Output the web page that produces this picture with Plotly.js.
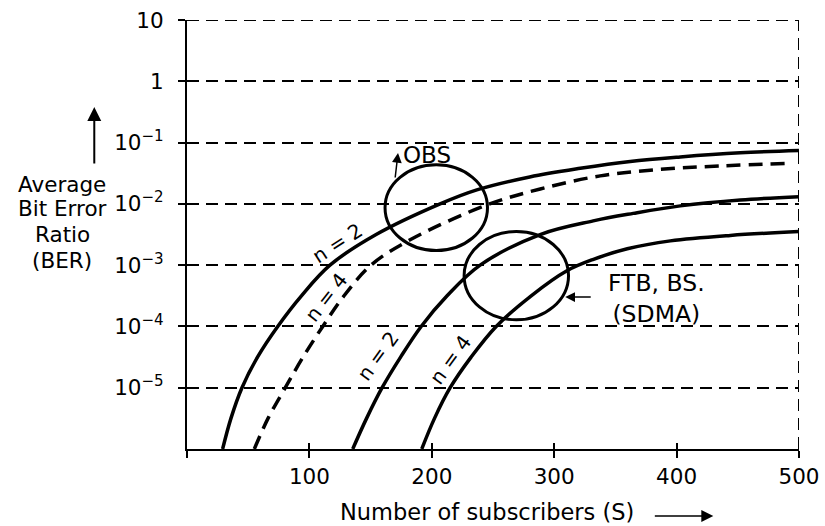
<!DOCTYPE html>
<html><head><meta charset="utf-8">
<script src="https://cdn.plot.ly/plotly-3.0.1.min.js"></script>
<style>html,body{margin:0;padding:0;background:#fff;}#chart{width:825px;height:526px;}</style>
</head><body><div id="chart"></div>
<script>
// OBS, n = 2 (solid)
const subscribersObsN2 = [29.1, 35.9, 44.9, 57.6, 74.1, 93.5, 116.8, 154.5, 206.8, 236.8, 280, 321.3, 362.1, 403, 452.1, 500];
const berObsN2 = [1e-6, 3.16e-6, 1e-5, 3.16e-5, 1e-4, 3.16e-4, 1e-3, 3.16e-3, 1.0e-2, 1.69e-2, 2.75e-2, 3.8e-2, 4.93e-2, 5.83e-2, 6.8e-2, 7.45e-2];
// OBS, n = 4 (dashed)
const subscribersObsN4 = [55, 66.2, 80.3, 94.8, 110.9, 128.3, 150.3, 182.3, 245, 288.6, 337.6, 386.7, 435.7, 490.1];
const berObsN4 = [1e-6, 3.16e-6, 1e-5, 3.16e-5, 1e-4, 3.16e-4, 1e-3, 2.59e-3, 9.6e-3, 1.75e-2, 2.86e-2, 3.65e-2, 4.16e-2, 4.57e-2];
// FTB, BS (SDMA), n = 2
const subscribersFtbN2 = [135.4, 146.7, 159.4, 174.5, 191.3, 212.5, 239.5, 288.5, 331.9, 364.6, 403, 452.1, 500];
const berFtbN2 = [1e-6, 3.16e-6, 1e-5, 3.16e-5, 1e-4, 3.16e-4, 1e-3, 3.16e-3, 5.28e-3, 7.0e-3, 9.27e-3, 1.16e-2, 1.31e-2];
// FTB, BS (SDMA), n = 4
const subscribersFtbN4 = [191.8, 202.2, 215, 232.1, 252.6, 281.2, 310.4, 332.1, 359.7, 394.9, 443.9, 500];
const berFtbN4 = [1e-6, 3.16e-6, 1e-5, 3.16e-5, 1e-4, 3.16e-4, 8.1e-4, 1.245e-3, 1.85e-3, 2.49e-3, 3.06e-3, 3.53e-3];

const xTickVals = [0, 100, 200, 300, 400, 500];
const xTickText = ['', '100', '200', '300', '400', '500'];
const xInnerTickVals = [100, 200, 300, 400, 500];
const yTickVals = [1e-5, 1e-4, 1e-3, 1e-2, 1e-1, 1, 10];
const yTickText = ['10<sup>−5</sup>', '10<sup>−4</sup>', '10<sup>−3</sup>', '10<sup>−2</sup>', '10<sup>−1</sup>', '1', '10'];
const yTitleLines = ['Average', 'Bit Error', 'Ratio', '(BER)'];
const yTitleLineY = [0.616, 0.560, 0.499, 0.439];

// circled regions [S0, S1, BER0, BER1]
const obsRegion = [161.8, 245.5, 0.00173, 0.0433];
const ftbRegion = [226.4, 311.7, 1.28e-4, 0.00353];

const FONT = 'DejaVu Sans, Arial, sans-serif';
const curveLine = {color: '#000', width: 3.5, shape: 'spline', smoothing: 1};

const traces = [
  {x: subscribersObsN2, y: berObsN2, mode: 'lines', line: curveLine, name: 'OBS n=2'},
  {x: subscribersObsN4, y: berObsN4, mode: 'lines', line: Object.assign({}, curveLine, {dash: '14px,8px'}), name: 'OBS n=4'},
  {x: subscribersFtbN2, y: berFtbN2, mode: 'lines', line: curveLine, name: 'FTB n=2'},
  {x: subscribersFtbN4, y: berFtbN4, mode: 'lines', line: curveLine, name: 'FTB n=4'},
  {x: [], y: [], xaxis: 'x2', yaxis: 'y', mode: 'lines', showlegend: false}
];

const gridDash = '12px,7px';
const txt = (size) => ({family: FONT, size: size, color: '#000'});

const annotations = [
  {xref: 'paper', yref: 'paper', x: -0.1515, y: 0.797, text: '', showarrow: true, ax: 0, ay: 58, arrowhead: 2, arrowsize: 1.4, arrowwidth: 2, arrowcolor: '#000', standoff: 0},
  {xref: 'paper', yref: 'paper', x: 0.491, y: -0.147, text: 'Number of subscribers (S)', showarrow: false, xanchor: 'center', yanchor: 'middle', font: txt(22.5)},
  {xref: 'paper', yref: 'paper', x: 0.860, y: -0.156, text: '', showarrow: true, ax: -60, ay: 0, arrowhead: 2, arrowsize: 1.6, arrowwidth: 1.5, arrowcolor: '#000', standoff: 0},
  {xref: 'x', yref: 'y', x: 174.5, y: -1.201, text: 'OBS', showarrow: false, xanchor: 'left', yanchor: 'middle', font: txt(23)},
  {xref: 'x', yref: 'y', x: 172.4, y: -1.17, text: '', showarrow: true, ax: -3, ay: 26, arrowhead: 2, arrowsize: 1.3, arrowwidth: 1.5, arrowcolor: '#000', standoff: 0},
  {xref: 'x', yref: 'y', x: 383.4, y: -3.549, text: 'FTB, BS.<br>(SDMA)', showarrow: false, xanchor: 'center', yanchor: 'middle', align: 'center', font: txt(23.5)},
  {xref: 'x', yref: 'y', x: 309, y: -3.521, text: '', showarrow: true, ax: 27, ay: 0, arrowhead: 2, arrowsize: 1.3, arrowwidth: 1.5, arrowcolor: '#000', standoff: 0},
  {xref: 'x', yref: 'y', x: 123, y: -2.641, text: 'n = 2', showarrow: false, textangle: -33, font: txt(20)},
  {xref: 'x', yref: 'y', x: 114.1, y: -3.525, text: 'n = 4', showarrow: false, textangle: -52, font: txt(20)},
  {xref: 'x', yref: 'y', x: 155.7, y: -4.475, text: 'n = 2', showarrow: false, textangle: -54, font: txt(20)},
  {xref: 'x', yref: 'y', x: 215, y: -4.544, text: 'n = 4', showarrow: false, textangle: -54, font: txt(20)}
];
yTitleLines.forEach((line, i) => {
  annotations.push({xref: 'paper', yref: 'paper', x: -0.204, y: yTitleLineY[i], text: line, showarrow: false, xanchor: 'center', yanchor: 'middle', font: txt(21.5)});
});

const layout = {
  width: 825, height: 526,
  margin: {l: 187, r: 26, t: 20, b: 77},
  paper_bgcolor: '#fff', plot_bgcolor: '#fff',
  showlegend: false,
  font: {family: FONT, color: '#000', size: 21},
  xaxis: {
    range: [0, 500], tickvals: xTickVals, ticktext: xTickText,
    ticks: 'outside', ticklen: 7, tickwidth: 2, tickcolor: '#000',
    showline: true, linewidth: 2, linecolor: '#000',
    showgrid: false, zeroline: false,
    tickfont: txt(21.5)
  },
  xaxis2: {
    overlaying: 'x', anchor: 'y', side: 'bottom', range: [0, 500],
    tickvals: xInnerTickVals, ticks: 'inside', ticklen: 6, tickwidth: 2, tickcolor: '#000',
    showticklabels: false, showline: false, showgrid: false, zeroline: false
  },
  yaxis: {
    type: 'log', range: [-6, 1], tickvals: yTickVals, ticktext: yTickText,
    ticks: 'outside', ticklen: 7, tickwidth: 2, tickcolor: '#000',
    showline: true, linewidth: 2, linecolor: '#000',
    showgrid: true, gridcolor: '#000', gridwidth: 2, griddash: gridDash,
    zeroline: false, ticklabelstandoff: 10,
    tickfont: txt(21.5)
  },
  shapes: [
    {type: 'line', xref: 'x', yref: 'paper', x0: 500, x1: 500, y0: 0, y1: 1, line: {color: '#000', width: 2, dash: gridDash}},
    {type: 'line', xref: 'paper', yref: 'y', x0: 0, x1: 1, y0: 10, y1: 10, line: {color: '#000', width: 2, dash: gridDash}},
    {type: 'circle', xref: 'x', yref: 'y', x0: obsRegion[0], x1: obsRegion[1], y0: obsRegion[2], y1: obsRegion[3], line: {color: '#000', width: 3}},
    {type: 'circle', xref: 'x', yref: 'y', x0: ftbRegion[0], x1: ftbRegion[1], y0: ftbRegion[2], y1: ftbRegion[3], line: {color: '#000', width: 3}}
  ],
  annotations: annotations
};

Plotly.newPlot('chart', traces, layout, {displayModeBar: false, staticPlot: true});
</script>
</body></html>
